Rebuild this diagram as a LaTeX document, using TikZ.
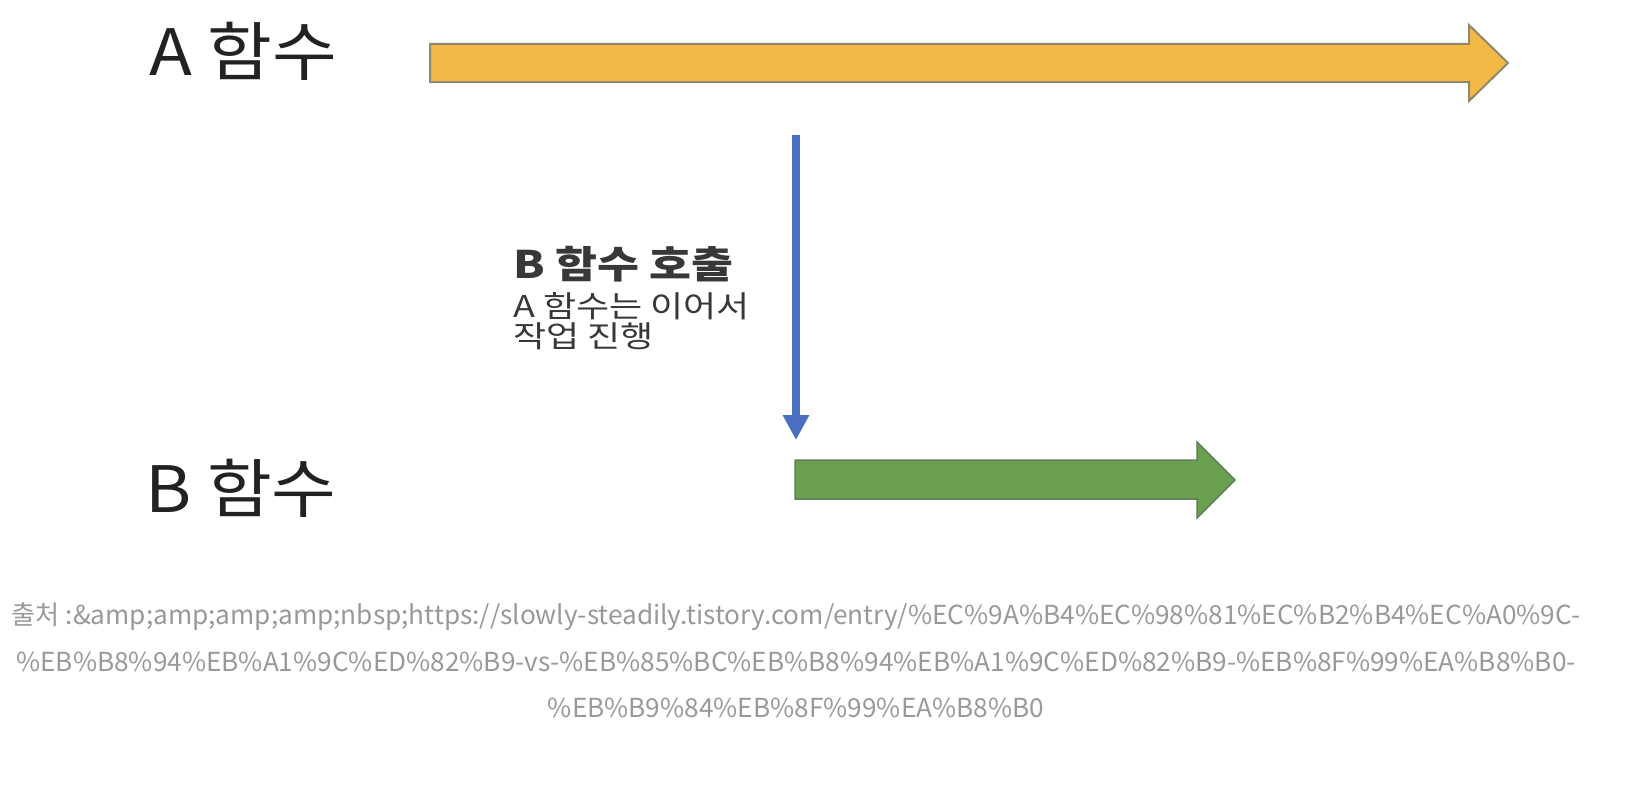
\documentclass[tikz,border=0pt]{standalone}
\usepackage{fontspec}
\setmainfont{Noto Sans CJK KR}
\newfontfamily\kowide[FakeStretch=1.1]{Noto Sans CJK KR}
\newfontfamily\konote[FakeStretch=1.2]{Noto Sans CJK KR}
\usetikzlibrary{arrows.meta}
\definecolor{aFill}{HTML}{F4B847}
\definecolor{aLine}{HTML}{8E8B6B}
\definecolor{bFill}{HTML}{6A9F4F}
\definecolor{bLine}{HTML}{5F7D5F}
\definecolor{callBlue}{HTML}{4A6FC0}
\definecolor{capGray}{HTML}{999999}
\definecolor{txtDark}{HTML}{222222}
\tikzset{fn/.style  = {anchor=base west, inner sep=0pt, text=txtDark, font=\kowide\fontsize{64}{64}\selectfont},
           note/.style = {anchor=base west, inner sep=0pt, text=txtDark!90},
           src/.style  = {anchor=base, inner sep=0pt, text=capGray, font=\fontsize{26.2}{26.2}\selectfont},
           ta/.style   = {fill=aFill, draw=aLine, line width=2pt, line join=miter},
           tb/.style   = {fill=bFill, draw=bLine, line width=1.5pt, line join=miter},
           call/.style = {draw=callBlue, line width=8pt, -{Triangle[length=25pt,width=25pt]}}}
\begin{document}
\begin{tikzpicture}[x=1pt, y=-1pt]
    \useasboundingbox (0,0) rectangle (1630,800);
    \node[fn] (fa) at (149,75)  {A 함수};
    \node[fn] (fb) at (145,512) {B 함수};
    % timelines
    \draw[ta] (430,44) -- (1469,44) -- (1469,25) -- (1508,63) -- (1469,101) -- (1469,82) -- (430,82) -- cycle;
    \draw[tb] (795,460) -- (1197,460) -- (1197,442) -- (1235,480) -- (1197,518) -- (1197,499) -- (795,499) -- cycle;
    % call
    \coordinate (c0) at (796,135);
    \coordinate (c1) at (796,440);
    \draw[call] (c0) -- (c1);
    \node[note, font=\konote\fontsize{38}{38}\selectfont\bfseries] (n1) at (513,278) {B 함수 호출};
    \node[note, font=\konote\fontsize{30}{30}\selectfont] (n2) at (513,317) {A 함수는 이어서};
    \node[note, font=\konote\fontsize{30}{30}\selectfont] (n3) at (513,347) {작업 진행};
    % source
    \node[src] (s1) at (796,624) {출처 :\&amp;amp;amp;amp;nbsp;https://slowly-steadily.tistory.com/entry/\%EC\%9A\%B4\%EC\%98\%81\%EC\%B2\%B4\%EC\%A0\%9C-};
    \node[src] (s2) at (796,671) {\%EB\%B8\%94\%EB\%A1\%9C\%ED\%82\%B9-vs-\%EB\%85\%BC\%EB\%B8\%94\%EB\%A1\%9C\%ED\%82\%B9-\%EB\%8F\%99\%EA\%B8\%B0-};
    \node[src] (s3) at (796,717) {\%EB\%B9\%84\%EB\%8F\%99\%EA\%B8\%B0};
  \end{tikzpicture}
\end{document}
